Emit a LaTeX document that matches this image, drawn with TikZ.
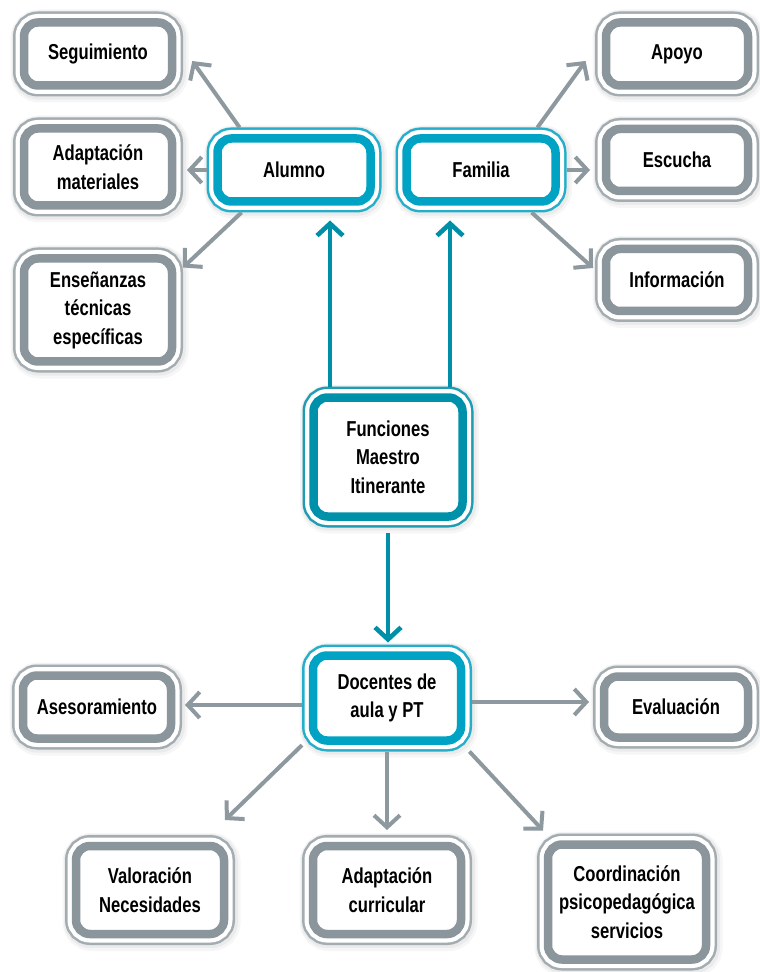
\documentclass[tikz,border=0pt]{standalone}
\usepackage{fontspec}
\setmainfont[FakeStretch=0.77]{Liberation Sans}
\usetikzlibrary{arrows.meta}

\definecolor{boxgray}{HTML}{8A959C}
\definecolor{rimgray}{HTML}{A3ACB1}
\definecolor{boxteal}{HTML}{00A3C4}
\definecolor{rimteal}{HTML}{25AECA}
\definecolor{darkteal}{HTML}{0091AA}
\definecolor{rimdark}{HTML}{1E9CB2}
\definecolor{lineteal}{HTML}{008FA8}
\definecolor{linegray}{HTML}{8E989F}

\tikzset{
  framed/.style 2 args={rounded corners=7pt, inner sep=0pt, outer sep=5.5pt,
    align=center, fill=white, text=black,
    preaction={draw=black, opacity=0.035, line width=15pt,
      transform canvas={shift={(0.8pt,-1pt)}}},
    preaction={draw=black, opacity=0.045, line width=13pt,
      transform canvas={shift={(0.5pt,-0.6pt)}}},
    preaction={draw=#2, line width=11pt},
    preaction={draw=white, line width=8.5pt},
    draw=#1, line width=4.25pt},
  graybox/.style={framed={boxgray}{rimgray}},
  tealbox/.style={framed={boxteal}{rimteal}},
  mainbox/.style={framed={darkteal}{rimdark}},
  grayarrow/.style={draw=linegray, line width=2pt,
    -{Straight Barb[length=6pt,width=13pt]}},
  tealarrow/.style={draw=lineteal, line width=2.3pt,
    -{Straight Barb[length=6pt,width=13pt]}}
}

\begin{document}
\begin{tikzpicture}[x=0.5pt, y=-0.5pt, font=\fontsize{10.8}{14.25}\selectfont\bfseries]
  \path[use as bounding box, fill=white] (0,0) rectangle (759,972);

  % centre
  \node[mainbox, minimum width=74.5pt, minimum height=59.5pt] (fun) at (388,457)
    {Funciones\\Maestro\\Itinerante};

  % alumno and its tasks
  \node[tealbox, minimum width=76.5pt, minimum height=31.5pt] (alumno) at (294,170) {Alumno};
  \node[graybox, minimum width=74pt, minimum height=31.5pt] (seg) at (98,54) {Seguimiento};
  \node[graybox, minimum width=74pt, minimum height=38.5pt] (adm) at (98,167) {Adaptación\\materiales};
  \node[graybox, minimum width=74pt, minimum height=51.5pt] (ens) at (98,310)
    {Enseñanzas\\técnicas\\específicas};

  % familia and its tasks
  \node[tealbox, minimum width=74.5pt, minimum height=31.5pt] (familia) at (481,170) {Familia};
  \node[graybox, minimum width=71pt, minimum height=31.5pt] (apoyo) at (677,54) {Apoyo};
  \node[graybox, minimum width=71pt, minimum height=31pt] (esc) at (677,160) {Escucha};
  \node[graybox, minimum width=71pt, minimum height=31pt] (info) at (677,280) {Información};

  % docentes and their tasks
  \node[tealbox, minimum width=74pt, minimum height=42.5pt] (doc) at (387,698) {Docentes de\\aula y PT};
  \node[graybox, minimum width=74pt, minimum height=31.5pt] (ases) at (97,707) {Asesoramiento};
  \node[graybox, minimum width=72pt, minimum height=30.5pt] (eval) at (676,707) {Evaluación};
  \node[graybox, minimum width=74pt, minimum height=44pt] (val) at (150,890) {Valoración\\Necesidades};
  \node[graybox, minimum width=74pt, minimum height=44pt] (adc) at (387,890) {Adaptación\\curricular};
  \node[graybox, minimum width=79pt, minimum height=57.5pt] (coord) at (627,902)
    {Coordinación\\psicopedagógica\\servicios};

  % teal connectors
  \draw[tealarrow, shorten >=4pt] ([xshift=-29pt]fun.north) -- ([xshift=-29pt]fun.north |- alumno.south);
  \draw[tealarrow, shorten >=4pt] ([xshift=31pt]fun.north) -- ([xshift=31pt]fun.north |- familia.south);
  \draw[tealarrow, shorten <=2.5pt, shorten >=1pt] (fun.south) -- (fun.south |- doc.north);

  % gray connectors
  \draw[grayarrow, shorten >=8pt] (alumno.142) -- ([yshift=3pt]seg.east);
  \draw[grayarrow, shorten >=2pt] (alumno.west) -- (alumno.west -| adm.east);
  \draw[grayarrow] (alumno.219) -- ([yshift=-10pt]ens.north east);
  \draw[grayarrow, shorten >=8pt] (familia.37) -- ([yshift=3pt]apoyo.west);
  \draw[grayarrow, shorten >=2.5pt] (familia.east) -- (familia.east -| esc.west);
  \draw[grayarrow] (familia.-40) -- ([xshift=-1pt,yshift=-15pt]info.north west);
  \draw[grayarrow, shorten >=1.5pt] ([yshift=-3.5pt]doc.west) -- ([yshift=-3.5pt]doc.west -| ases.east);
  \draw[grayarrow, shorten >=2pt] ([yshift=-2pt]doc.east) -- ([yshift=-2pt]doc.east -| eval.west);
  \draw[grayarrow] (doc.209) -- ([xshift=-5pt,yshift=7.5pt]val.north east);
  \draw[grayarrow, shorten >=2.5pt] (doc.south) -- (doc.south |- adc.north);
  \draw[grayarrow] (doc.-33) -- ([xshift=3pt,yshift=1.5pt]coord.north west);
\end{tikzpicture}
\end{document}
